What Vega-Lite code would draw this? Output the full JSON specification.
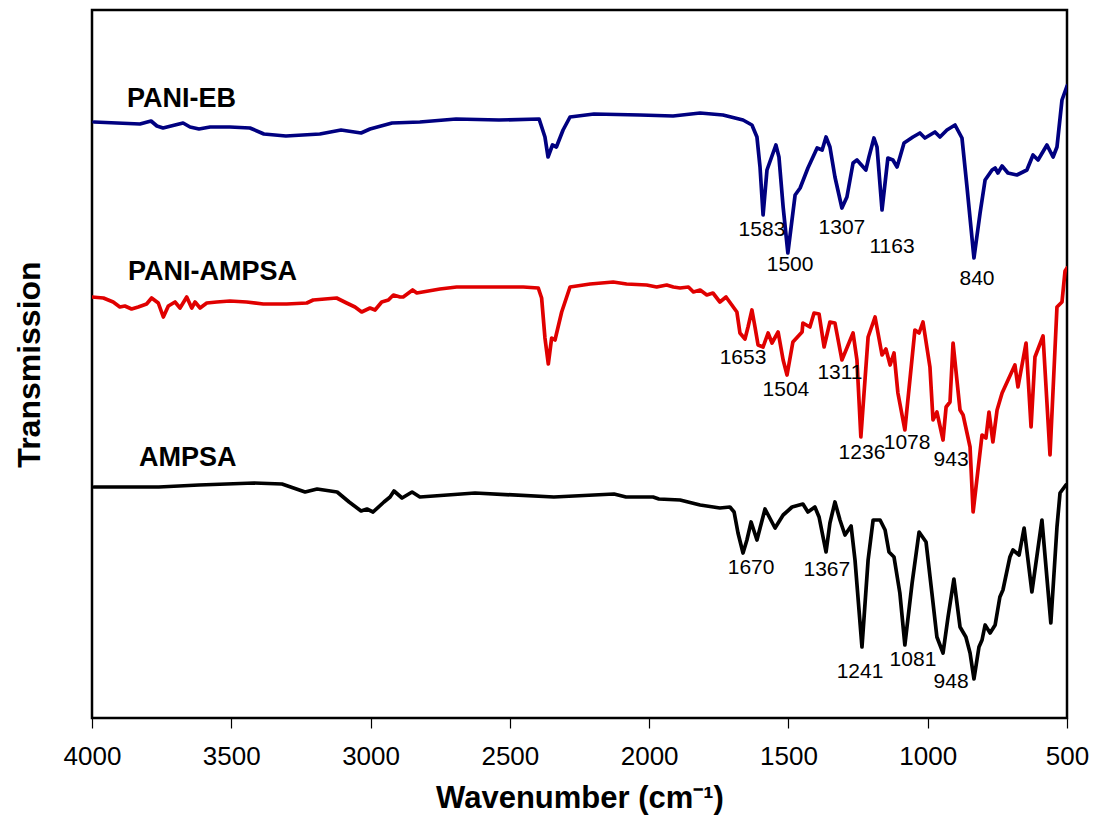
{
  "$schema": "https://vega.github.io/schema/vega-lite/v6.json",
  "width": 975,
  "height": 708,
  "autosize": {"type": "none"},
  "padding": {"left": 92, "top": 10, "right": 32, "bottom": 117},
  "background": "white",
  "config": {
    "view": {"stroke": "black", "strokeWidth": 2.5},
    "font": "Liberation Sans"
  },
  "datasets": {
    "spectra": [
      {"sample":"PANI-EB","w":3993,"t":596},{"sample":"PANI-EB","w":3828,"t":594},{"sample":"PANI-EB","w":3788,"t":597},{"sample":"PANI-EB","w":3767,"t":592},{"sample":"PANI-EB","w":3745,"t":590},{"sample":"PANI-EB","w":3702,"t":593},{"sample":"PANI-EB","w":3673,"t":595},{"sample":"PANI-EB","w":3648,"t":591},{"sample":"PANI-EB","w":3616,"t":589},{"sample":"PANI-EB","w":3576,"t":591},{"sample":"PANI-EB","w":3505,"t":591},{"sample":"PANI-EB","w":3433,"t":590},{"sample":"PANI-EB","w":3383,"t":584},{"sample":"PANI-EB","w":3304,"t":582},{"sample":"PANI-EB","w":3182,"t":584},{"sample":"PANI-EB","w":3106,"t":588},{"sample":"PANI-EB","w":3034,"t":585},{"sample":"PANI-EB","w":3002,"t":589},{"sample":"PANI-EB","w":2923,"t":595},{"sample":"PANI-EB","w":2823,"t":596},{"sample":"PANI-EB","w":2693,"t":599},{"sample":"PANI-EB","w":2539,"t":598},{"sample":"PANI-EB","w":2395,"t":599},{"sample":"PANI-EB","w":2374,"t":581},{"sample":"PANI-EB","w":2363,"t":561},{"sample":"PANI-EB","w":2347,"t":573},{"sample":"PANI-EB","w":2333,"t":571},{"sample":"PANI-EB","w":2309,"t":588},{"sample":"PANI-EB","w":2284,"t":601},{"sample":"PANI-EB","w":2198,"t":604},{"sample":"PANI-EB","w":2033,"t":603},{"sample":"PANI-EB","w":1914,"t":602},{"sample":"PANI-EB","w":1817,"t":605},{"sample":"PANI-EB","w":1735,"t":603},{"sample":"PANI-EB","w":1663,"t":598},{"sample":"PANI-EB","w":1631,"t":593},{"sample":"PANI-EB","w":1613,"t":581},{"sample":"PANI-EB","w":1602,"t":551},{"sample":"PANI-EB","w":1591,"t":503},{"sample":"PANI-EB","w":1577,"t":548},{"sample":"PANI-EB","w":1545,"t":573},{"sample":"PANI-EB","w":1534,"t":561},{"sample":"PANI-EB","w":1519,"t":511},{"sample":"PANI-EB","w":1502,"t":465},{"sample":"PANI-EB","w":1476,"t":523},{"sample":"PANI-EB","w":1458,"t":530},{"sample":"PANI-EB","w":1430,"t":550},{"sample":"PANI-EB","w":1397,"t":570},{"sample":"PANI-EB","w":1379,"t":568},{"sample":"PANI-EB","w":1365,"t":581},{"sample":"PANI-EB","w":1351,"t":571},{"sample":"PANI-EB","w":1333,"t":541},{"sample":"PANI-EB","w":1308,"t":510},{"sample":"PANI-EB","w":1290,"t":521},{"sample":"PANI-EB","w":1268,"t":555},{"sample":"PANI-EB","w":1254,"t":558},{"sample":"PANI-EB","w":1222,"t":548},{"sample":"PANI-EB","w":1211,"t":561},{"sample":"PANI-EB","w":1193,"t":580},{"sample":"PANI-EB","w":1182,"t":571},{"sample":"PANI-EB","w":1164,"t":508},{"sample":"PANI-EB","w":1143,"t":560},{"sample":"PANI-EB","w":1125,"t":558},{"sample":"PANI-EB","w":1110,"t":551},{"sample":"PANI-EB","w":1085,"t":575},{"sample":"PANI-EB","w":1053,"t":581},{"sample":"PANI-EB","w":1028,"t":585},{"sample":"PANI-EB","w":1010,"t":580},{"sample":"PANI-EB","w":974,"t":586},{"sample":"PANI-EB","w":956,"t":581},{"sample":"PANI-EB","w":931,"t":588},{"sample":"PANI-EB","w":902,"t":593},{"sample":"PANI-EB","w":877,"t":580},{"sample":"PANI-EB","w":859,"t":531},{"sample":"PANI-EB","w":834,"t":460},{"sample":"PANI-EB","w":812,"t":505},{"sample":"PANI-EB","w":794,"t":538},{"sample":"PANI-EB","w":769,"t":548},{"sample":"PANI-EB","w":758,"t":550},{"sample":"PANI-EB","w":748,"t":545},{"sample":"PANI-EB","w":733,"t":552},{"sample":"PANI-EB","w":712,"t":545},{"sample":"PANI-EB","w":680,"t":543},{"sample":"PANI-EB","w":644,"t":548},{"sample":"PANI-EB","w":622,"t":563},{"sample":"PANI-EB","w":604,"t":558},{"sample":"PANI-EB","w":572,"t":573},{"sample":"PANI-EB","w":550,"t":561},{"sample":"PANI-EB","w":536,"t":571},{"sample":"PANI-EB","w":518,"t":618},{"sample":"PANI-EB","w":500,"t":632},

      {"sample":"PANI-AMPSA","w":4000,"t":421},{"sample":"PANI-AMPSA","w":3959,"t":420},{"sample":"PANI-AMPSA","w":3924,"t":416},{"sample":"PANI-AMPSA","w":3900,"t":411},{"sample":"PANI-AMPSA","w":3882,"t":412},{"sample":"PANI-AMPSA","w":3858,"t":409},{"sample":"PANI-AMPSA","w":3834,"t":411},{"sample":"PANI-AMPSA","w":3804,"t":414},{"sample":"PANI-AMPSA","w":3786,"t":420},{"sample":"PANI-AMPSA","w":3762,"t":415},{"sample":"PANI-AMPSA","w":3744,"t":401},{"sample":"PANI-AMPSA","w":3726,"t":412},{"sample":"PANI-AMPSA","w":3702,"t":416},{"sample":"PANI-AMPSA","w":3684,"t":410},{"sample":"PANI-AMPSA","w":3660,"t":421},{"sample":"PANI-AMPSA","w":3642,"t":410},{"sample":"PANI-AMPSA","w":3630,"t":416},{"sample":"PANI-AMPSA","w":3612,"t":410},{"sample":"PANI-AMPSA","w":3588,"t":415},{"sample":"PANI-AMPSA","w":3552,"t":416},{"sample":"PANI-AMPSA","w":3505,"t":417},{"sample":"PANI-AMPSA","w":3445,"t":416},{"sample":"PANI-AMPSA","w":3385,"t":414},{"sample":"PANI-AMPSA","w":3301,"t":414},{"sample":"PANI-AMPSA","w":3229,"t":415},{"sample":"PANI-AMPSA","w":3206,"t":418},{"sample":"PANI-AMPSA","w":3122,"t":420},{"sample":"PANI-AMPSA","w":3086,"t":415},{"sample":"PANI-AMPSA","w":3056,"t":411},{"sample":"PANI-AMPSA","w":3032,"t":406},{"sample":"PANI-AMPSA","w":3002,"t":410},{"sample":"PANI-AMPSA","w":2984,"t":408},{"sample":"PANI-AMPSA","w":2960,"t":416},{"sample":"PANI-AMPSA","w":2936,"t":418},{"sample":"PANI-AMPSA","w":2918,"t":423},{"sample":"PANI-AMPSA","w":2894,"t":421},{"sample":"PANI-AMPSA","w":2883,"t":421},{"sample":"PANI-AMPSA","w":2849,"t":428},{"sample":"PANI-AMPSA","w":2834,"t":425},{"sample":"PANI-AMPSA","w":2751,"t":429},{"sample":"PANI-AMPSA","w":2691,"t":431},{"sample":"PANI-AMPSA","w":2571,"t":431},{"sample":"PANI-AMPSA","w":2452,"t":431},{"sample":"PANI-AMPSA","w":2398,"t":430},{"sample":"PANI-AMPSA","w":2386,"t":420},{"sample":"PANI-AMPSA","w":2374,"t":380},{"sample":"PANI-AMPSA","w":2362,"t":354},{"sample":"PANI-AMPSA","w":2350,"t":380},{"sample":"PANI-AMPSA","w":2338,"t":378},{"sample":"PANI-AMPSA","w":2314,"t":406},{"sample":"PANI-AMPSA","w":2284,"t":431},{"sample":"PANI-AMPSA","w":2212,"t":434},{"sample":"PANI-AMPSA","w":2129,"t":436},{"sample":"PANI-AMPSA","w":2081,"t":434},{"sample":"PANI-AMPSA","w":2009,"t":433},{"sample":"PANI-AMPSA","w":1973,"t":431},{"sample":"PANI-AMPSA","w":1937,"t":433},{"sample":"PANI-AMPSA","w":1913,"t":431},{"sample":"PANI-AMPSA","w":1889,"t":430},{"sample":"PANI-AMPSA","w":1859,"t":431},{"sample":"PANI-AMPSA","w":1841,"t":426},{"sample":"PANI-AMPSA","w":1817,"t":428},{"sample":"PANI-AMPSA","w":1793,"t":423},{"sample":"PANI-AMPSA","w":1771,"t":425},{"sample":"PANI-AMPSA","w":1746,"t":416},{"sample":"PANI-AMPSA","w":1724,"t":421},{"sample":"PANI-AMPSA","w":1685,"t":406},{"sample":"PANI-AMPSA","w":1674,"t":385},{"sample":"PANI-AMPSA","w":1656,"t":379},{"sample":"PANI-AMPSA","w":1645,"t":391},{"sample":"PANI-AMPSA","w":1631,"t":408},{"sample":"PANI-AMPSA","w":1620,"t":391},{"sample":"PANI-AMPSA","w":1609,"t":373},{"sample":"PANI-AMPSA","w":1591,"t":371},{"sample":"PANI-AMPSA","w":1573,"t":385},{"sample":"PANI-AMPSA","w":1559,"t":375},{"sample":"PANI-AMPSA","w":1537,"t":386},{"sample":"PANI-AMPSA","w":1519,"t":358},{"sample":"PANI-AMPSA","w":1505,"t":343},{"sample":"PANI-AMPSA","w":1484,"t":376},{"sample":"PANI-AMPSA","w":1451,"t":386},{"sample":"PANI-AMPSA","w":1448,"t":395},{"sample":"PANI-AMPSA","w":1423,"t":391},{"sample":"PANI-AMPSA","w":1408,"t":405},{"sample":"PANI-AMPSA","w":1390,"t":404},{"sample":"PANI-AMPSA","w":1372,"t":371},{"sample":"PANI-AMPSA","w":1351,"t":396},{"sample":"PANI-AMPSA","w":1333,"t":395},{"sample":"PANI-AMPSA","w":1308,"t":358},{"sample":"PANI-AMPSA","w":1268,"t":385},{"sample":"PANI-AMPSA","w":1254,"t":358},{"sample":"PANI-AMPSA","w":1240,"t":281},{"sample":"PANI-AMPSA","w":1214,"t":381},{"sample":"PANI-AMPSA","w":1189,"t":401},{"sample":"PANI-AMPSA","w":1164,"t":363},{"sample":"PANI-AMPSA","w":1150,"t":369},{"sample":"PANI-AMPSA","w":1135,"t":353},{"sample":"PANI-AMPSA","w":1121,"t":365},{"sample":"PANI-AMPSA","w":1107,"t":325},{"sample":"PANI-AMPSA","w":1082,"t":288},{"sample":"PANI-AMPSA","w":1046,"t":388},{"sample":"PANI-AMPSA","w":1031,"t":385},{"sample":"PANI-AMPSA","w":1017,"t":396},{"sample":"PANI-AMPSA","w":992,"t":351},{"sample":"PANI-AMPSA","w":981,"t":298},{"sample":"PANI-AMPSA","w":967,"t":306},{"sample":"PANI-AMPSA","w":945,"t":278},{"sample":"PANI-AMPSA","w":934,"t":311},{"sample":"PANI-AMPSA","w":920,"t":316},{"sample":"PANI-AMPSA","w":909,"t":375},{"sample":"PANI-AMPSA","w":884,"t":308},{"sample":"PANI-AMPSA","w":873,"t":303},{"sample":"PANI-AMPSA","w":848,"t":271},{"sample":"PANI-AMPSA","w":837,"t":206},{"sample":"PANI-AMPSA","w":805,"t":283},{"sample":"PANI-AMPSA","w":791,"t":280},{"sample":"PANI-AMPSA","w":780,"t":306},{"sample":"PANI-AMPSA","w":766,"t":276},{"sample":"PANI-AMPSA","w":751,"t":308},{"sample":"PANI-AMPSA","w":733,"t":325},{"sample":"PANI-AMPSA","w":687,"t":353},{"sample":"PANI-AMPSA","w":676,"t":331},{"sample":"PANI-AMPSA","w":647,"t":375},{"sample":"PANI-AMPSA","w":629,"t":291},{"sample":"PANI-AMPSA","w":615,"t":361},{"sample":"PANI-AMPSA","w":586,"t":382},{"sample":"PANI-AMPSA","w":561,"t":263},{"sample":"PANI-AMPSA","w":536,"t":411},{"sample":"PANI-AMPSA","w":518,"t":416},{"sample":"PANI-AMPSA","w":507,"t":447},{"sample":"PANI-AMPSA","w":500,"t":450},

      {"sample":"AMPSA","w":3993,"t":231},{"sample":"AMPSA","w":3760,"t":231},{"sample":"AMPSA","w":3616,"t":233},{"sample":"AMPSA","w":3418,"t":235},{"sample":"AMPSA","w":3318,"t":234},{"sample":"AMPSA","w":3235,"t":226},{"sample":"AMPSA","w":3192,"t":229},{"sample":"AMPSA","w":3120,"t":226},{"sample":"AMPSA","w":3077,"t":216},{"sample":"AMPSA","w":3034,"t":207},{"sample":"AMPSA","w":3013,"t":209},{"sample":"AMPSA","w":2991,"t":206},{"sample":"AMPSA","w":2952,"t":216},{"sample":"AMPSA","w":2930,"t":221},{"sample":"AMPSA","w":2916,"t":227},{"sample":"AMPSA","w":2887,"t":220},{"sample":"AMPSA","w":2851,"t":226},{"sample":"AMPSA","w":2823,"t":221},{"sample":"AMPSA","w":2625,"t":225},{"sample":"AMPSA","w":2342,"t":221},{"sample":"AMPSA","w":2126,"t":224},{"sample":"AMPSA","w":2083,"t":221},{"sample":"AMPSA","w":1986,"t":221},{"sample":"AMPSA","w":1965,"t":219},{"sample":"AMPSA","w":1889,"t":218},{"sample":"AMPSA","w":1817,"t":213},{"sample":"AMPSA","w":1746,"t":210},{"sample":"AMPSA","w":1710,"t":211},{"sample":"AMPSA","w":1695,"t":206},{"sample":"AMPSA","w":1681,"t":185},{"sample":"AMPSA","w":1663,"t":165},{"sample":"AMPSA","w":1649,"t":178},{"sample":"AMPSA","w":1634,"t":196},{"sample":"AMPSA","w":1613,"t":178},{"sample":"AMPSA","w":1584,"t":209},{"sample":"AMPSA","w":1548,"t":190},{"sample":"AMPSA","w":1519,"t":203},{"sample":"AMPSA","w":1487,"t":211},{"sample":"AMPSA","w":1448,"t":214},{"sample":"AMPSA","w":1430,"t":206},{"sample":"AMPSA","w":1405,"t":211},{"sample":"AMPSA","w":1390,"t":201},{"sample":"AMPSA","w":1365,"t":166},{"sample":"AMPSA","w":1351,"t":195},{"sample":"AMPSA","w":1333,"t":216},{"sample":"AMPSA","w":1315,"t":198},{"sample":"AMPSA","w":1297,"t":183},{"sample":"AMPSA","w":1275,"t":192},{"sample":"AMPSA","w":1261,"t":158},{"sample":"AMPSA","w":1236,"t":71},{"sample":"AMPSA","w":1214,"t":158},{"sample":"AMPSA","w":1196,"t":198},{"sample":"AMPSA","w":1171,"t":198},{"sample":"AMPSA","w":1153,"t":188},{"sample":"AMPSA","w":1139,"t":166},{"sample":"AMPSA","w":1121,"t":161},{"sample":"AMPSA","w":1100,"t":125},{"sample":"AMPSA","w":1082,"t":73},{"sample":"AMPSA","w":1056,"t":135},{"sample":"AMPSA","w":1031,"t":186},{"sample":"AMPSA","w":1006,"t":176},{"sample":"AMPSA","w":985,"t":125},{"sample":"AMPSA","w":967,"t":81},{"sample":"AMPSA","w":945,"t":65},{"sample":"AMPSA","w":927,"t":101},{"sample":"AMPSA","w":906,"t":139},{"sample":"AMPSA","w":884,"t":91},{"sample":"AMPSA","w":863,"t":81},{"sample":"AMPSA","w":848,"t":65},{"sample":"AMPSA","w":834,"t":39},{"sample":"AMPSA","w":816,"t":71},{"sample":"AMPSA","w":805,"t":78},{"sample":"AMPSA","w":794,"t":93},{"sample":"AMPSA","w":776,"t":85},{"sample":"AMPSA","w":758,"t":93},{"sample":"AMPSA","w":741,"t":121},{"sample":"AMPSA","w":730,"t":128},{"sample":"AMPSA","w":705,"t":161},{"sample":"AMPSA","w":694,"t":168},{"sample":"AMPSA","w":672,"t":163},{"sample":"AMPSA","w":654,"t":190},{"sample":"AMPSA","w":626,"t":126},{"sample":"AMPSA","w":590,"t":198},{"sample":"AMPSA","w":558,"t":95},{"sample":"AMPSA","w":536,"t":191},{"sample":"AMPSA","w":525,"t":225},{"sample":"AMPSA","w":504,"t":233}
    ],
    "names": [
      {"name":"PANI-EB","w":3874,"t":611},
      {"name":"PANI-AMPSA","w":3871,"t":438},
      {"name":"AMPSA","w":3831,"t":252}
    ],
    "peaks": [
      {"label":"1583","w":1595,"t":488},
      {"label":"1500","w":1494,"t":453},
      {"label":"1307","w":1308,"t":490},
      {"label":"1163","w":1128,"t":471},
      {"label":"840","w":823,"t":439},
      {"label":"1653","w":1663,"t":360},
      {"label":"1504","w":1509,"t":328},
      {"label":"1311","w":1315,"t":345},
      {"label":"1236","w":1236,"t":265},
      {"label":"1078","w":1074,"t":275},
      {"label":"943","w":916,"t":258},
      {"label":"1670","w":1634,"t":150},
      {"label":"1367","w":1362,"t":148},
      {"label":"1241","w":1243,"t":46},
      {"label":"1081","w":1053,"t":58},
      {"label":"948","w":916,"t":36}
    ]
  },
  "encoding": {
    "x": {
      "field": "w",
      "type": "quantitative",
      "scale": {"domain": [4000, 500], "nice": false, "zero": false},
      "axis": {
        "title": "Wavenumber (cm⁻¹)",
        "values": [4000, 3500, 3000, 2500, 2000, 1500, 1000, 500],
        "format": "d",
        "grid": false,
        "domain": false,
        "tickColor": "black",
        "tickWidth": 1.2,
        "tickSize": 10,
        "labelFont": "Liberation Sans",
        "labelFontSize": 26,
        "labelColor": "black",
        "labelPadding": 15,
        "labelFlush": false,
        "titleFont": "Liberation Sans",
        "titleFontSize": 31,
        "titleFontWeight": "bold",
        "titleColor": "black",
        "titlePadding": 14
      }
    },
    "y": {
      "field": "t",
      "type": "quantitative",
      "scale": {"domain": [0, 708], "nice": false, "zero": false},
      "axis": {
        "title": "Transmission",
        "labels": false,
        "ticks": false,
        "domain": false,
        "grid": false,
        "titleFont": "Liberation Sans",
        "titleFontSize": 32,
        "titleFontWeight": "bold",
        "titleColor": "black",
        "titlePadding": 46
      }
    }
  },
  "layer": [
    {
      "data": {"name": "spectra"},
      "mark": {"type": "line", "strokeWidth": 3.7, "strokeJoin": "round", "strokeCap": "round", "clip": true},
      "encoding": {
        "color": {
          "field": "sample",
          "type": "nominal",
          "scale": {"domain": ["PANI-EB", "PANI-AMPSA", "AMPSA"], "range": ["#000080", "#e00000", "#000000"]},
          "legend": null
        }
      }
    },
    {
      "data": {"name": "names"},
      "mark": {"type": "text", "align": "left", "baseline": "alphabetic", "fontSize": 27, "fontWeight": "bold", "font": "Liberation Sans", "color": "black"},
      "encoding": {"text": {"field": "name"}}
    },
    {
      "data": {"name": "peaks"},
      "mark": {"type": "text", "align": "center", "baseline": "middle", "fontSize": 21, "font": "Liberation Sans", "color": "black"},
      "encoding": {"text": {"field": "label"}}
    }
  ]
}
